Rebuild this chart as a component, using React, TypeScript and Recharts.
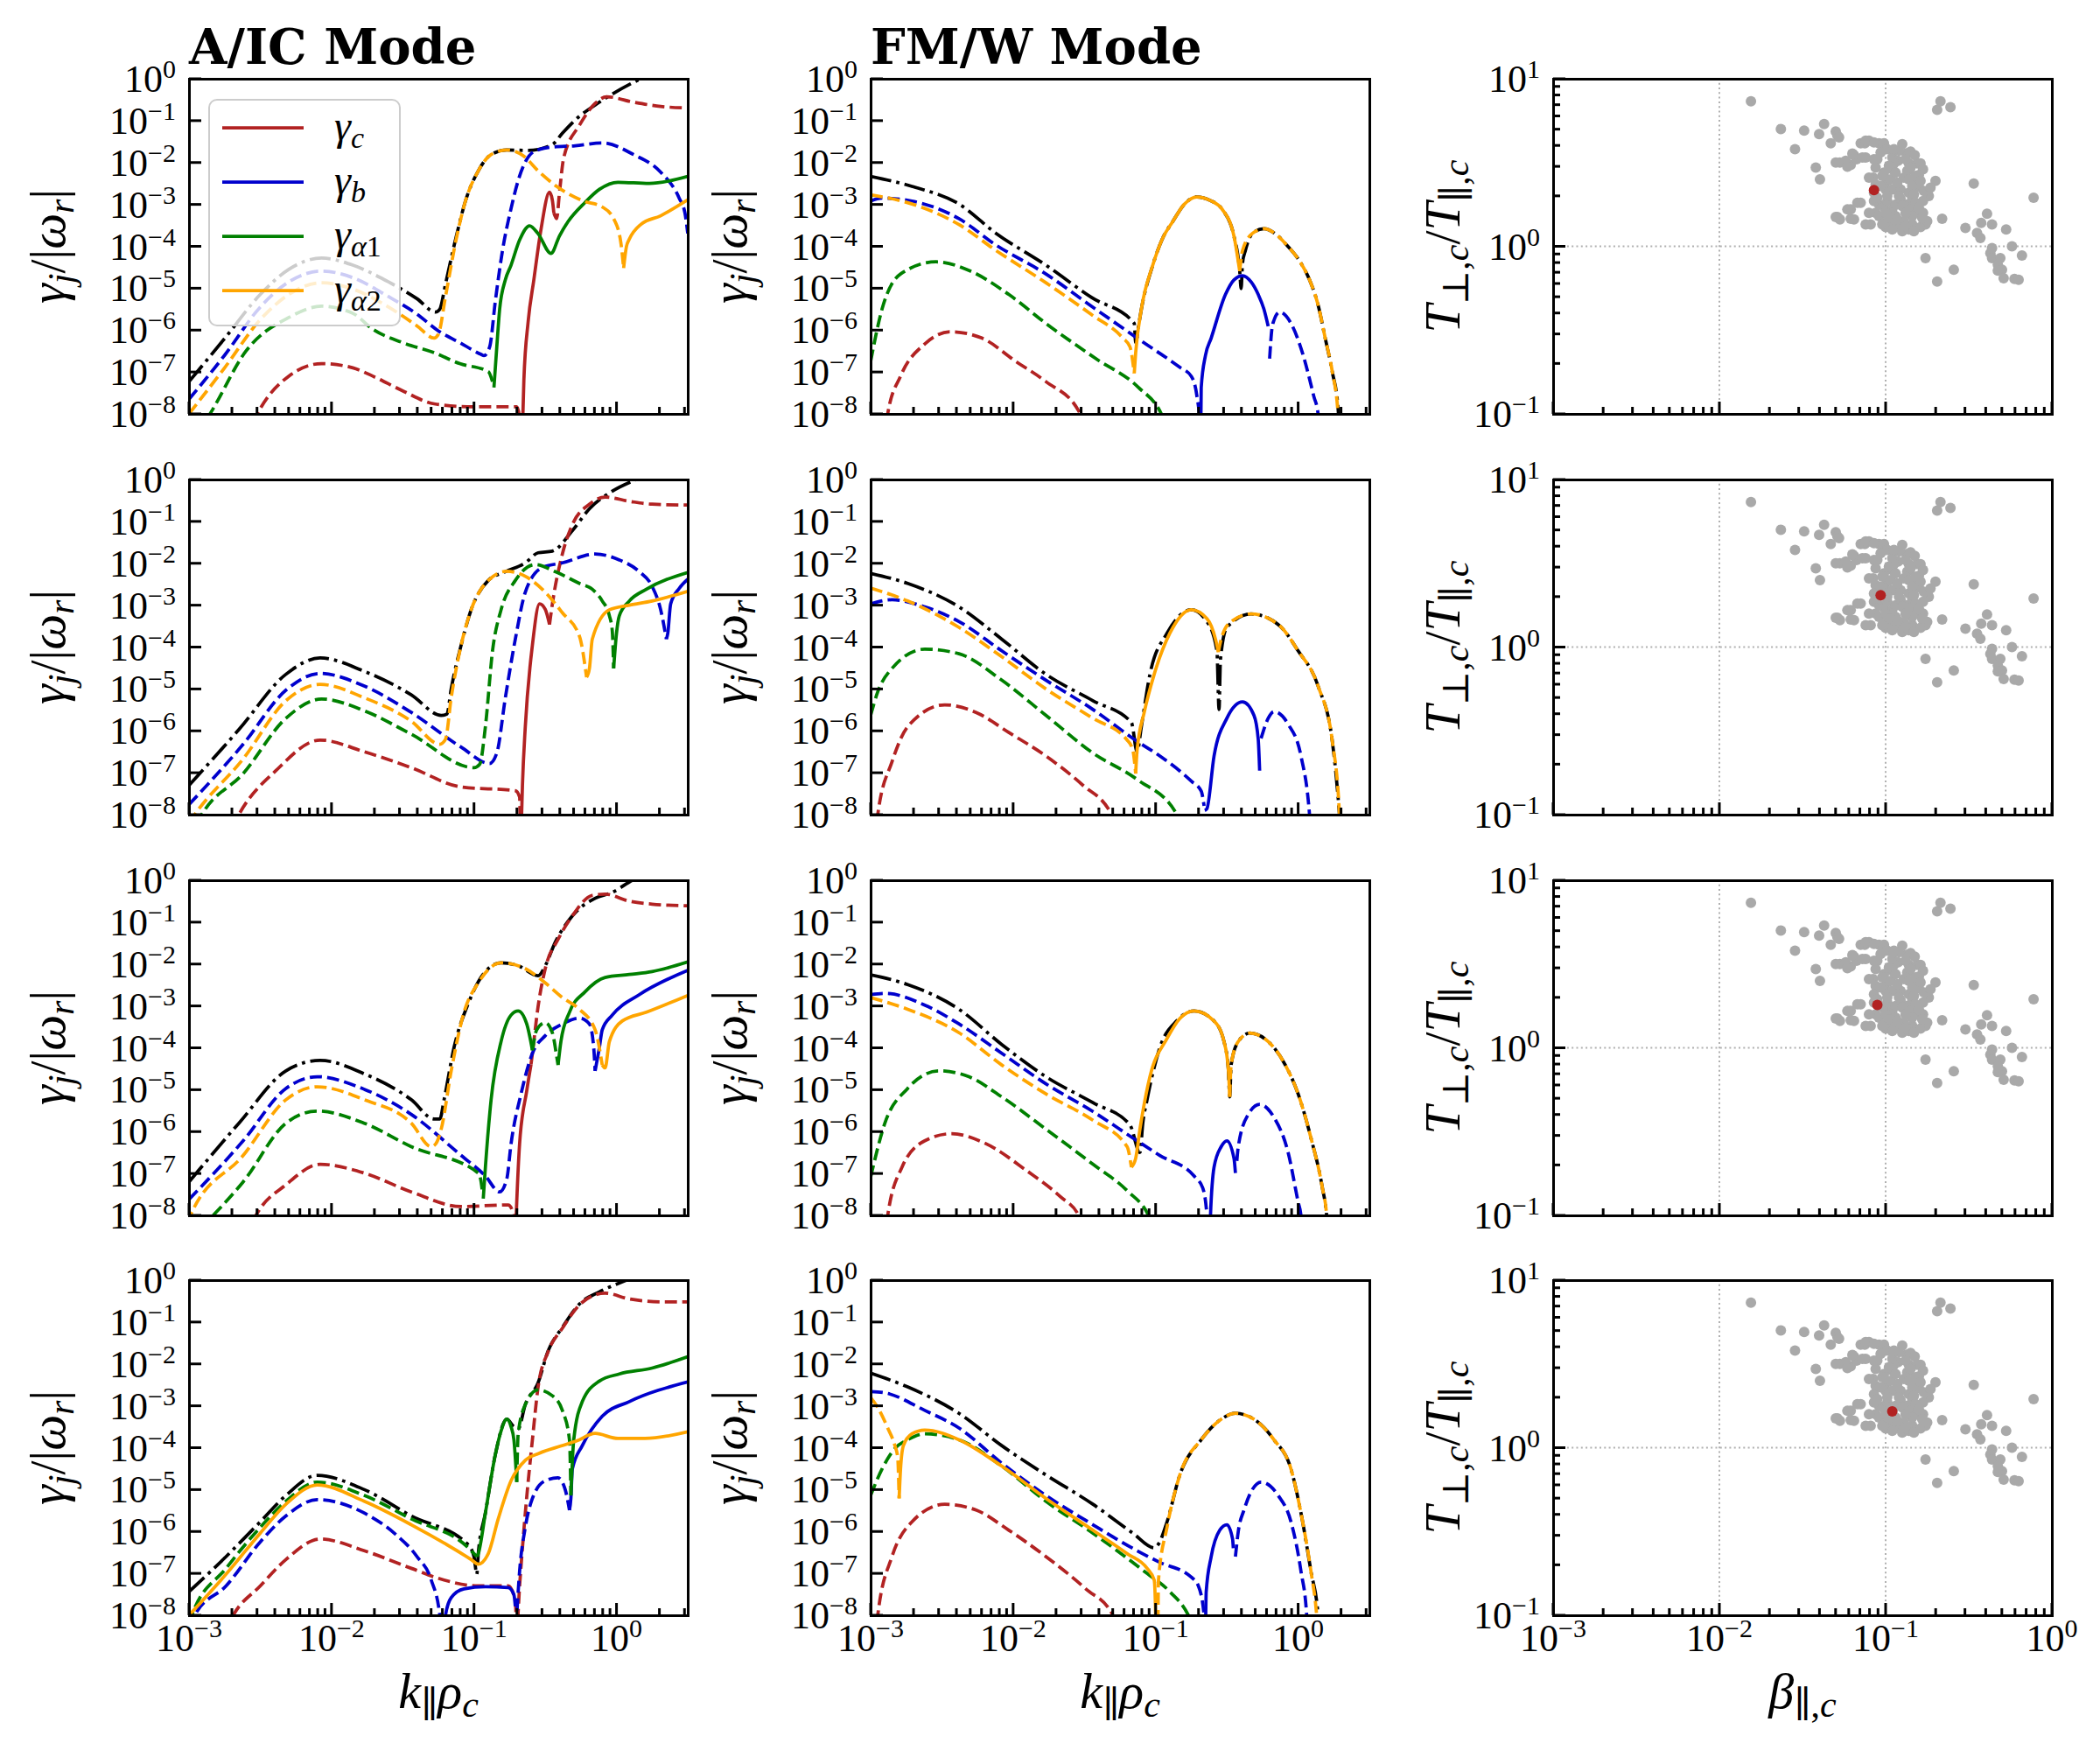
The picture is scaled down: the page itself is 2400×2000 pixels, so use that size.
import React from "react";
import { LineChart, Line, XAxis, YAxis, ScatterChart, Scatter, ReferenceLine } from "recharts";

type Pt = [number, number];
type Seg = [string, Pt[]];

const SERIF = "'Liberation Serif', 'DejaVu Serif', serif";
const BOLD_SERIF = "'DejaVu Serif', serif";

const COLORS: Record<string, string> = {
  tot: "#000000",
  c: "#b22222",
  b: "#0000cd",
  a1: "#008000",
  a2: "#ffa500",
};
const DASH: Record<string, string | undefined> = { s: undefined, d: "13.9 6", dd: "24 6 3.75 6" };

// panel geometry (plot frame)
const COL_X = [216, 995, 1775];
const ROW_Y = [90, 548, 1006, 1463];
const PW = 570;
const PH = 383;
const PAD_L = 200;
const PAD_T = 30;
const PAD_R = 60;
const PAD_B = 90;

// axes
const K_DOMAIN = [0.001, 3.1623];
const K_TICKS = [
  0.001, 0.002, 0.003, 0.004, 0.005, 0.006, 0.007, 0.008, 0.009,
  0.01, 0.02, 0.03, 0.04, 0.05, 0.06, 0.07, 0.08, 0.09,
  0.1, 0.2, 0.3, 0.4, 0.5, 0.6, 0.7, 0.8, 0.9,
  1, 2, 3,
];
const G_DOMAIN = [1e-8, 1];
const G_TICKS = [1e-8, 1e-7, 1e-6, 1e-5, 1e-4, 1e-3, 1e-2, 1e-1, 1];
const B_DOMAIN = [0.001, 1];
const B_TICKS = [
  0.001, 0.002, 0.003, 0.004, 0.005, 0.006, 0.007, 0.008, 0.009,
  0.01, 0.02, 0.03, 0.04, 0.05, 0.06, 0.07, 0.08, 0.09,
  0.1, 0.2, 0.3, 0.4, 0.5, 0.6, 0.7, 0.8, 0.9,
  1,
];
const T_DOMAIN = [0.1, 10];
const T_TICKS = [0.1, 0.2, 0.3, 0.4, 0.5, 0.6, 0.7, 0.8, 0.9, 1, 2, 3, 4, 5, 6, 7, 8, 9, 10];

// ---- curves: [log10 k, log10 |gamma|], "s" = solid (positive), "d" = dashed (negative), "dd" = total
// row 1, A/IC
const AIC1_TOT: Seg[] = [["dd", [[-3,-7.23],[-2.75,-6.2],[-2.5,-5.15],[-2.3,-4.55],[-2.07,-4.28],[-1.85,-4.45],[-1.6,-4.85],[-1.4,-5.25],[-1.27,-5.57],[-1.24,-5.5],[-1.2,-4.9],[-1.12,-3.7],[-1.06,-2.92],[-0.97,-2.2],[-0.88,-1.81],[-0.77,-1.7],[-0.62,-1.71],[-0.45,-1.57],[-0.38,-1.3],[-0.285,-0.97],[-0.12,-0.56],[0.17,0],[0.3,0.2]]]];
const AIC1_C: Seg[] = [
  ["d", [[-2.6,-8.6],[-2.52,-8],[-2.3,-7.1],[-2.07,-6.8],[-1.85,-6.9],[-1.71,-7.1],[-1.5,-7.45],[-1.28,-7.76],[-1.01,-7.83],[-0.7,-7.83],[-0.68,-8.1],[-0.67,-9]]],
  ["s", [[-0.665,-9],[-0.65,-7.2],[-0.62,-5.8],[-0.58,-4.8],[-0.53,-3.6],[-0.47,-2.71],[-0.45,-2.9],[-0.44,-3.2]]],
  ["d", [[-0.44,-3.2],[-0.42,-3.34],[-0.4,-2.71],[-0.37,-1.88],[-0.26,-1.11],[-0.15,-0.59],[-0.07,-0.43],[0.12,-0.56],[0.31,-0.66],[0.5,-0.7]]],
];
const AIC1_B: Seg[] = [["d", [[-3,-7.65],[-2.75,-6.6],[-2.5,-5.45],[-2.3,-4.85],[-2.07,-4.59],[-1.85,-4.75],[-1.6,-5.2],[-1.4,-5.62],[-1.25,-6.02],[-1.1,-6.3],[-0.95,-6.58],[-0.93,-6.61],[-0.89,-6.4],[-0.85,-5.3],[-0.8,-4.1],[-0.74,-3.1],[-0.69,-2.43],[-0.58,-1.74],[-0.45,-1.63],[-0.29,-1.6],[-0.1,-1.53],[0.12,-1.81],[0.31,-2.23],[0.44,-2.85],[0.48,-3.2],[0.5,-3.69]]]];
const AIC1_A1: Seg[] = [
  ["d", [[-3,-8.8],[-2.84,-7.93],[-2.6,-6.5],[-2.3,-5.7],[-2.07,-5.43],[-1.85,-5.6],[-1.71,-5.98],[-1.5,-6.3],[-1.28,-6.54],[-1.1,-6.8],[-0.9,-6.99],[-0.87,-7.23]]],
  ["s", [[-0.86,-7.37],[-0.84,-6.4],[-0.82,-5.5],[-0.78,-4.8],[-0.74,-4.45],[-0.68,-3.85],[-0.61,-3.51],[-0.55,-3.7],[-0.46,-4.17],[-0.4,-3.75],[-0.34,-3.41],[-0.22,-2.95],[-0.12,-2.64],[0.01,-2.47],[0.23,-2.5],[0.5,-2.33]]],
];
const AIC1_A2: Seg[] = [
  ["d", [[-3,-8],[-2.75,-6.9],[-2.5,-5.75],[-2.3,-5.15],[-2.07,-4.87],[-1.85,-5.02],[-1.6,-5.45],[-1.4,-5.9],[-1.28,-6.19],[-1.25,-6.1],[-1.2,-5.2],[-1.12,-3.75],[-1.06,-2.92],[-0.97,-2.2],[-0.88,-1.81],[-0.77,-1.7],[-0.65,-1.85],[-0.55,-2.2],[-0.42,-2.57],[-0.23,-2.92],[-0.1,-3.06],[-0.02,-3.34],[0.03,-3.9],[0.05,-4.52]]],
  ["s", [[0.05,-4.52],[0.07,-4.0],[0.09,-3.83],[0.17,-3.48],[0.31,-3.27],[0.5,-2.89]]],
];

// row 1, FM/W
const FMW1_TOT: Seg[] = [["dd", [[-3,-2.33],[-2.71,-2.57],[-2.38,-2.99],[-2.12,-3.69],[-1.77,-4.45],[-1.45,-5.22],[-1.15,-5.84],[-1.14,-6.3],[-1.12,-5.9],[-1.1,-5.5],[-1.02,-4.45],[-0.95,-3.8],[-0.88,-3.41],[-0.8,-3.0],[-0.71,-2.82],[-0.62,-2.9],[-0.53,-3.13],[-0.45,-3.76],[-0.41,-4.59],[-0.4,-5.01],[-0.39,-4.4],[-0.37,-4.1],[-0.32,-3.69],[-0.24,-3.58],[-0.16,-3.7],[-0.08,-3.97],[0,-4.3],[0.08,-4.8],[0.14,-5.4],[0.19,-6.19],[0.24,-7.0],[0.28,-7.86],[0.3,-9]]]];
const FMW1_C: Seg[] = [["d", [[-2.92,-9],[-2.88,-8],[-2.79,-7.1],[-2.62,-6.33],[-2.44,-6.04],[-2.22,-6.19],[-1.98,-6.75],[-1.77,-7.23],[-1.54,-7.93],[-1.5,-8.2]]]];
const FMW1_B: Seg[] = [
  ["d", [[-3,-2.92],[-2.92,-2.85],[-2.71,-2.92],[-2.38,-3.34],[-2.12,-3.97],[-1.77,-4.66],[-1.45,-5.43],[-1.1,-6.26],[-0.83,-6.89],[-0.75,-7.1],[-0.71,-7.58],[-0.69,-8.2],[-0.685,-9]]],
  ["s", [[-0.685,-9],[-0.68,-7.37],[-0.65,-6.6],[-0.61,-6.19],[-0.51,-5.15],[-0.45,-4.8],[-0.39,-4.7],[-0.33,-4.85],[-0.28,-5.15],[-0.24,-5.5],[-0.21,-5.91]]],
  ["d", [[-0.2,-6.68],[-0.185,-6.0],[-0.17,-5.77],[-0.13,-5.57],[-0.05,-5.84],[0.03,-6.54],[0.11,-7.58],[0.14,-8],[0.16,-9]]],
];
const FMW1_A1: Seg[] = [["d", [[-3,-6.75],[-2.92,-5.5],[-2.79,-4.66],[-2.54,-4.37],[-2.3,-4.59],[-2.03,-5.15],[-1.77,-5.84],[-1.42,-6.68],[-1.12,-7.37],[-0.96,-8],[-0.9,-8.5]]]];
const FMW1_A2: Seg[] = [
  ["d", [[-3,-2.77],[-2.71,-2.99],[-2.38,-3.48],[-2.12,-4.1],[-1.77,-4.87],[-1.45,-5.63],[-1.23,-6.19],[-1.18,-6.4],[-1.15,-7.03]]],
  ["s", [[-1.15,-7.03],[-1.14,-6.54],[-1.1,-5.5],[-1.02,-4.45],[-0.95,-3.8],[-0.88,-3.41],[-0.8,-3.0],[-0.71,-2.82],[-0.62,-2.9],[-0.53,-3.13],[-0.45,-3.76],[-0.41,-4.59]]],
  ["d", [[-0.41,-4.59],[-0.39,-4.1],[-0.32,-3.69],[-0.24,-3.58],[-0.16,-3.7],[-0.08,-3.97],[0,-4.3],[0.08,-4.8],[0.14,-5.4],[0.19,-6.19],[0.24,-7.0],[0.28,-8],[0.29,-9]]],
];

// row 2, A/IC
const AIC2_TOT: Seg[] = [["dd", [[-3,-7.3],[-2.65,-5.97],[-2.32,-4.65],[-2.08,-4.26],[-1.77,-4.58],[-1.44,-5.14],[-1.23,-5.63],[-1.19,-5.6],[-1.16,-5.0],[-1.09,-3.95],[-1.02,-3.11],[-0.9,-2.41],[-0.78,-2.2],[-0.64,-1.99],[-0.55,-1.75],[-0.45,-1.71],[-0.31,-1.22],[-0.19,-0.7],[-0.03,-0.28],[0.14,0],[0.3,0.2]]]];
const AIC2_C: Seg[] = [
  ["d", [[-2.75,-8.7],[-2.65,-8],[-2.39,-6.95],[-2.08,-6.22],[-1.77,-6.5],[-1.44,-6.88],[-1.09,-7.34],[-0.71,-7.43],[-0.68,-7.58],[-0.675,-8.5]]],
  ["s", [[-0.67,-8.5],[-0.66,-7.3],[-0.64,-5.9],[-0.59,-3.95],[-0.54,-2.97],[-0.5,-3.1],[-0.47,-3.46]]],
  ["d", [[-0.47,-3.46],[-0.45,-2.97],[-0.38,-1.78],[-0.31,-1.08],[-0.19,-0.59],[-0.08,-0.42],[0.09,-0.52],[0.25,-0.59],[0.5,-0.61]]],
];
const AIC2_B: Seg[] = [
  ["d", [[-3,-7.76],[-2.62,-6.32],[-2.32,-5.03],[-2.08,-4.63],[-1.77,-4.93],[-1.44,-5.56],[-1.09,-6.39],[-0.89,-6.78],[-0.84,-6.53],[-0.78,-5.21],[-0.71,-3.81],[-0.64,-2.69],[-0.52,-2.1],[-0.38,-1.99],[-0.15,-1.78],[0.02,-1.92],[0.16,-2.2],[0.25,-2.55],[0.31,-3.11],[0.35,-3.81]]],
  ["s", [[0.35,-3.81],[0.36,-3.67],[0.38,-2.97],[0.44,-2.6],[0.5,-2.38]]],
];
const AIC2_A1: Seg[] = [
  ["d", [[-3,-8.6],[-2.91,-8],[-2.62,-7.02],[-2.32,-5.7],[-2.07,-5.24],[-1.77,-5.52],[-1.44,-6.08],[-1.0,-6.88],[-0.96,-6.8],[-0.92,-5.9],[-0.87,-4.09],[-0.81,-3.11],[-0.71,-2.41],[-0.57,-2.03],[-0.43,-2.2],[-0.26,-2.48],[-0.17,-2.62],[-0.1,-2.9],[-0.05,-3.25],[-0.03,-3.6],[-0.02,-4.51]]],
  ["s", [[-0.02,-4.51],[0,-3.67],[0.02,-3.25],[0.09,-2.9],[0.21,-2.62],[0.5,-2.22]]],
];
const AIC2_A2: Seg[] = [
  ["d", [[-3,-8.2],[-2.96,-8],[-2.62,-6.67],[-2.32,-5.28],[-2.08,-4.89],[-1.77,-5.21],[-1.44,-5.77],[-1.24,-6.32],[-1.2,-6.2],[-1.16,-5.21],[-1.09,-3.95],[-1.02,-3.11],[-0.9,-2.41],[-0.77,-2.19],[-0.64,-2.31],[-0.5,-2.69],[-0.38,-3.18],[-0.26,-3.74],[-0.21,-4.72]]],
  ["s", [[-0.21,-4.72],[-0.19,-4.51],[-0.17,-3.81],[-0.05,-3.11],[0.09,-3.0],[0.25,-2.9],[0.5,-2.67]]],
];

// row 2, FM/W
const FMW2_TOT: Seg[] = [["dd", [[-3,-2.24],[-2.74,-2.48],[-2.38,-3.04],[-2.08,-3.81],[-1.77,-4.65],[-1.44,-5.28],[-1.17,-5.8],[-1.13,-6.5],[-1.1,-5.9],[-1.04,-4.65],[-0.92,-3.67],[-0.75,-3.11],[-0.64,-3.39],[-0.57,-4.09],[-0.555,-5.49],[-0.545,-4.3],[-0.5,-3.53],[-0.33,-3.21],[-0.14,-3.46],[0,-4.09],[0.14,-4.93],[0.24,-6.25],[0.29,-8],[0.31,-9]]]];
const FMW2_C: Seg[] = [["d", [[-2.98,-9],[-2.95,-8],[-2.85,-6.74],[-2.74,-5.9],[-2.48,-5.38],[-2.26,-5.56],[-2.03,-6.04],[-1.77,-6.6],[-1.51,-7.3],[-1.32,-7.93],[-1.28,-8.2]]]];
const FMW2_B: Seg[] = [
  ["d", [[-3,-2.97],[-2.85,-2.87],[-2.62,-3.04],[-2.38,-3.39],[-2.08,-4.09],[-1.77,-4.79],[-1.44,-5.49],[-1.13,-6.25],[-0.97,-6.6],[-0.75,-7.2],[-0.68,-7.44],[-0.66,-7.79]]],
  ["s", [[-0.655,-7.9],[-0.64,-7.86],[-0.59,-6.6],[-0.5,-5.7],[-0.39,-5.31],[-0.31,-5.63],[-0.28,-6.2],[-0.27,-6.95]]],
  ["d", [[-0.26,-6.18],[-0.21,-5.7],[-0.17,-5.54],[-0.07,-5.84],[0.02,-6.6],[0.08,-8],[0.1,-9]]],
];
const FMW2_A1: Seg[] = [["d", [[-3,-5.63],[-2.95,-5.07],[-2.85,-4.51],[-2.62,-4.05],[-2.38,-4.16],[-2.08,-4.79],[-1.77,-5.63],[-1.44,-6.53],[-1.13,-7.16],[-0.85,-8],[-0.8,-8.4]]]];
const FMW2_A2: Seg[] = [
  ["d", [[-3,-2.59],[-2.74,-2.9],[-2.38,-3.53],[-2.08,-4.23],[-1.77,-5.0],[-1.44,-5.7],[-1.2,-6.22],[-1.16,-6.46],[-1.14,-7.02]]],
  ["s", [[-1.14,-7.02],[-1.13,-6.46],[-1.08,-5.56],[-1.01,-4.65],[-0.9,-3.67],[-0.75,-3.11],[-0.64,-3.32],[-0.58,-3.81],[-0.56,-4.12]]],
  ["d", [[-0.56,-4.12],[-0.54,-3.81],[-0.47,-3.39],[-0.33,-3.21],[-0.14,-3.46],[0,-4.09],[0.14,-4.93],[0.24,-6.25],[0.29,-8],[0.3,-9]]],
];

// row 3, A/IC
const AIC3_TOT: Seg[] = [["dd", [[-3,-7.2],[-2.65,-5.8],[-2.32,-4.55],[-2.08,-4.3],[-1.77,-4.62],[-1.44,-5.24],[-1.28,-5.7],[-1.24,-5.7],[-1.21,-5.24],[-1.14,-3.99],[-1.04,-2.94],[-0.92,-2.18],[-0.81,-1.97],[-0.69,-2.04],[-0.55,-2.28],[-0.5,-2.04],[-0.43,-1.48],[-0.31,-0.85],[-0.15,-0.43],[-0.03,-0.29],[0.11,0],[0.3,0.3]]]];
const AIC3_C: Seg[] = [
  ["d", [[-2.6,-8.5],[-2.53,-8],[-2.32,-7.27],[-2.08,-6.78],[-1.77,-6.99],[-1.44,-7.44],[-1.09,-7.79],[-0.76,-7.75],[-0.72,-8],[-0.715,-8.6]]],
  ["s", [[-0.71,-8.6],[-0.7,-7.68],[-0.68,-6.29],[-0.63,-5.03],[-0.6,-4.4]]],
  ["d", [[-0.6,-4.4],[-0.59,-4.13],[-0.55,-3.01],[-0.5,-2.11],[-0.41,-1.41],[-0.31,-0.85],[-0.17,-0.36],[-0.08,-0.33],[0.09,-0.5],[0.25,-0.57],[0.5,-0.61]]],
];
const AIC3_B: Seg[] = [
  ["d", [[-3,-7.62],[-2.62,-6.22],[-2.32,-4.97],[-2.1,-4.69],[-1.77,-4.99],[-1.44,-5.59],[-1.09,-6.57],[-0.92,-7.06],[-0.82,-7.44],[-0.77,-7.13],[-0.74,-6.29],[-0.67,-5.1],[-0.59,-4.13],[-0.5,-3.71],[-0.38,-3.43],[-0.26,-3.29],[-0.19,-3.43],[-0.16,-3.99],[-0.15,-4.55]]],
  ["s", [[-0.15,-4.55],[-0.12,-3.99],[-0.1,-3.57],[-0.03,-3.22],[0.16,-2.73],[0.5,-2.15]]],
];
const AIC3_A1: Seg[] = [
  ["d", [[-3,-8.6],[-2.83,-8],[-2.62,-7.2],[-2.32,-5.8],[-2.1,-5.51],[-1.77,-5.8],[-1.44,-6.36],[-0.97,-6.99],[-0.95,-7.2],[-0.94,-7.48]]],
  ["s", [[-0.935,-7.6],[-0.92,-6.85],[-0.88,-5.24],[-0.81,-3.85],[-0.74,-3.22],[-0.69,-3.12],[-0.63,-3.43],[-0.59,-4.06]]],
  ["d", [[-0.59,-4.06],[-0.56,-3.57],[-0.5,-3.4],[-0.45,-3.64],[-0.42,-4.2],[-0.41,-4.41]]],
  ["s", [[-0.41,-4.41],[-0.39,-3.85],[-0.33,-3.15],[-0.22,-2.66],[-0.08,-2.32],[0.09,-2.25],[0.25,-2.18],[0.5,-1.95]]],
];
const AIC3_A2: Seg[] = [
  ["d", [[-3,-8.2],[-2.99,-8],[-2.62,-6.57],[-2.32,-5.24],[-2.1,-4.93],[-1.77,-5.24],[-1.44,-5.8],[-1.3,-6.36],[-1.27,-6.3],[-1.23,-5.94],[-1.16,-4.55],[-1.07,-3.15],[-0.97,-2.45],[-0.81,-1.97],[-0.64,-2.11],[-0.5,-2.45],[-0.38,-2.8],[-0.26,-3.08],[-0.15,-3.57],[-0.1,-4.41]]],
  ["s", [[-0.1,-4.41],[-0.08,-4.48],[-0.05,-3.85],[0.04,-3.36],[0.21,-3.15],[0.5,-2.75]]],
];

// row 3, FM/W
const FMW3_TOT: Seg[] = [["dd", [[-3,-2.26],[-2.74,-2.49],[-2.38,-3.08],[-2.08,-3.92],[-1.77,-4.69],[-1.44,-5.31],[-1.18,-5.84],[-1.11,-6.5],[-1.09,-5.8],[-1.06,-5.24],[-0.97,-3.99],[-0.85,-3.35],[-0.73,-3.12],[-0.59,-3.36],[-0.52,-3.85],[-0.49,-4.5],[-0.48,-5.17],[-0.47,-4.41],[-0.42,-3.85],[-0.34,-3.65],[-0.21,-3.85],[-0.09,-4.41],[0,-5.1],[0.09,-6.15],[0.17,-7.34],[0.2,-8],[0.22,-9]]]];
const FMW3_C: Seg[] = [["d", [[-2.9,-8.6],[-2.88,-8],[-2.78,-6.85],[-2.62,-6.22],[-2.43,-6.05],[-2.19,-6.29],[-1.91,-6.92],[-1.67,-7.55],[-1.54,-8],[-1.5,-8.3]]]];
const FMW3_B: Seg[] = [
  ["d", [[-3,-2.73],[-2.9,-2.7],[-2.62,-2.98],[-2.38,-3.43],[-2.08,-4.13],[-1.77,-4.86],[-1.44,-5.52],[-1.13,-6.22],[-0.97,-6.57],[-0.73,-7.06],[-0.67,-7.34],[-0.64,-8],[-0.635,-9]]],
  ["s", [[-0.625,-9],[-0.615,-8],[-0.59,-6.85],[-0.54,-6.36],[-0.5,-6.22],[-0.45,-6.64],[-0.44,-6.99]]],
  ["d", [[-0.43,-6.7],[-0.42,-6.36],[-0.35,-5.59],[-0.27,-5.35],[-0.17,-5.66],[-0.07,-6.5],[0,-7.68],[0.02,-8],[0.03,-9]]],
];
const FMW3_A1: Seg[] = [["d", [[-3,-7.09],[-2.9,-5.8],[-2.74,-4.97],[-2.52,-4.55],[-2.31,-4.69],[-2.08,-5.17],[-1.77,-5.94],[-1.44,-6.78],[-1.2,-7.41],[-1.05,-8],[-1.0,-8.4]]]];
const FMW3_A2: Seg[] = [
  ["d", [[-3,-2.8],[-2.74,-3.08],[-2.38,-3.64],[-2.08,-4.41],[-1.77,-5.1],[-1.44,-5.73],[-1.2,-6.36],[-1.17,-6.85]]],
  ["s", [[-1.17,-6.85],[-1.14,-6.64],[-1.11,-5.94],[-1.04,-4.69],[-0.92,-3.78],[-0.83,-3.3],[-0.73,-3.12],[-0.59,-3.36],[-0.52,-3.85],[-0.49,-4.5],[-0.48,-5.17]]],
  ["d", [[-0.48,-5.17],[-0.47,-4.41],[-0.42,-3.85],[-0.34,-3.65],[-0.21,-3.85],[-0.09,-4.41],[0,-5.1],[0.09,-6.15],[0.17,-7.34],[0.2,-8],[0.21,-9]]],
];

// row 4, A/IC
const AIC4_TOT: Seg[] = [["dd", [[-3,-7.44],[-2.74,-6.6],[-2.5,-5.77],[-2.32,-5.14],[-2.1,-4.66],[-1.77,-5.0],[-1.44,-5.63],[-1.04,-6.32],[-1.0,-6.6],[-0.98,-7.02],[-0.97,-6.53],[-0.92,-5.56],[-0.85,-4.16],[-0.77,-3.32],[-0.72,-3.5],[-0.69,-3.55],[-0.64,-2.97],[-0.55,-2.45],[-0.48,-1.69],[-0.38,-1.13],[-0.26,-0.57],[-0.12,-0.28],[0.07,0],[0.3,0.3]]]];
const AIC4_C: Seg[] = [["d", [[-2.75,-8.4],[-2.69,-8],[-2.5,-7.3],[-2.32,-6.67],[-2.08,-6.18],[-1.77,-6.46],[-1.44,-6.88],[-1.21,-7.16],[-0.97,-7.3],[-0.76,-7.3],[-0.71,-7.65],[-0.7,-8.3],[-0.68,-7.3],[-0.64,-5.56],[-0.59,-3.81],[-0.55,-2.55],[-0.48,-1.71],[-0.38,-1.15],[-0.26,-0.59],[-0.15,-0.35],[-0.08,-0.31],[0.09,-0.45],[0.33,-0.52],[0.5,-0.52]]]];
const AIC4_B: Seg[] = [
  ["d", [[-3,-8.3],[-2.96,-8],[-2.74,-7.3],[-2.5,-6.25],[-2.32,-5.63],[-2.1,-5.24],[-1.77,-5.56],[-1.56,-6.04],[-1.4,-6.6],[-1.3,-7.16],[-1.24,-8],[-1.23,-9]]],
  ["s", [[-1.21,-9],[-1.2,-8],[-1.16,-7.58],[-1.07,-7.37],[-0.92,-7.32],[-0.76,-7.34],[-0.72,-7.51],[-0.71,-7.79]]],
  ["d", [[-0.705,-8.3],[-0.68,-6.95],[-0.64,-5.9],[-0.59,-5.21],[-0.5,-4.79],[-0.41,-4.72],[-0.36,-5.0],[-0.33,-5.49]]],
  ["s", [[-0.33,-5.49],[-0.32,-5.21],[-0.31,-4.51],[-0.24,-3.95],[-0.1,-3.25],[0.09,-2.9],[0.5,-2.43]]],
];
const AIC4_A1: Seg[] = [
  ["d", [[-3,-8.2],[-2.98,-8],[-2.74,-6.88],[-2.5,-5.9],[-2.32,-5.28],[-2.1,-4.82],[-1.77,-5.14],[-1.44,-5.7],[-1.04,-6.39],[-1.0,-6.53],[-0.98,-6.6]]],
  ["s", [[-0.98,-6.6],[-0.97,-6.53],[-0.92,-5.56],[-0.85,-4.16],[-0.81,-3.6],[-0.77,-3.32],[-0.74,-3.5],[-0.72,-3.81],[-0.7,-4.82]]],
  ["d", [[-0.7,-4.82],[-0.69,-3.67],[-0.64,-2.97],[-0.55,-2.62],[-0.45,-2.76],[-0.38,-3.11],[-0.33,-3.81],[-0.32,-5.14]]],
  ["s", [[-0.32,-5.14],[-0.3,-3.81],[-0.24,-2.9],[-0.12,-2.41],[0.02,-2.24],[0.25,-2.1],[0.5,-1.83]]],
];
const AIC4_A2: Seg[] = [["s", [[-3,-8],[-2.74,-7.02],[-2.5,-6.04],[-2.32,-5.35],[-2.1,-4.89],[-1.77,-5.28],[-1.44,-5.84],[-1.02,-6.67],[-0.97,-6.78],[-0.9,-6.53],[-0.83,-5.7],[-0.74,-4.79],[-0.64,-4.3],[-0.54,-4.13],[-0.39,-3.96],[-0.28,-3.84],[-0.15,-3.66],[0.01,-3.78],[0.2,-3.78],[0.5,-3.62]]]];

// row 4, FM/W
const FMW4_TOT: Seg[] = [["dd", [[-3,-2.22],[-2.74,-2.55],[-2.38,-3.18],[-2.08,-3.95],[-1.77,-4.65],[-1.44,-5.35],[-1.16,-6.04],[-1.01,-6.39],[-0.98,-6.3],[-0.92,-5.77],[-0.83,-4.65],[-0.68,-3.81],[-0.54,-3.32],[-0.44,-3.18],[-0.31,-3.32],[-0.17,-3.81],[-0.05,-4.51],[0.02,-5.56],[0.09,-6.95],[0.14,-8],[0.16,-9]]]];
const FMW4_C: Seg[] = [["d", [[-2.98,-9],[-2.95,-8],[-2.85,-6.6],[-2.71,-5.77],[-2.48,-5.35],[-2.26,-5.49],[-2.03,-5.97],[-1.77,-6.6],[-1.49,-7.37],[-1.3,-8],[-1.26,-8.3]]]];
const FMW4_B: Seg[] = [
  ["d", [[-3,-2.66],[-2.9,-2.69],[-2.62,-3.11],[-2.38,-3.53],[-2.08,-4.37],[-1.77,-5.14],[-1.44,-5.84],[-1.13,-6.46],[-0.97,-6.74],[-0.75,-7.09],[-0.7,-7.3],[-0.66,-8],[-0.655,-9]]],
  ["s", [[-0.65,-8.5],[-0.645,-7.44],[-0.61,-6.6],[-0.55,-5.97],[-0.5,-5.84],[-0.46,-6.18],[-0.455,-6.4]]],
  ["d", [[-0.44,-6.6],[-0.42,-6.0],[-0.38,-5.49],[-0.26,-4.82],[-0.14,-5.14],[-0.05,-5.77],[0.02,-6.95],[0.06,-8],[0.07,-9]]],
];
const FMW4_A1: Seg[] = [["d", [[-3,-5.14],[-2.92,-4.51],[-2.83,-4.02],[-2.74,-3.81],[-2.62,-3.67],[-2.38,-3.81],[-2.08,-4.44],[-1.77,-5.28],[-1.44,-6.04],[-1.08,-6.95],[-0.9,-7.44],[-0.77,-8],[-0.72,-8.4]]]];
const FMW4_A2: Seg[] = [
  ["d", [[-3,-2.8],[-2.95,-3.04],[-2.88,-3.53],[-2.83,-3.95],[-2.81,-4.23],[-2.8,-5.21]]],
  ["s", [[-2.8,-5.21],[-2.79,-4.51],[-2.77,-3.95],[-2.71,-3.67],[-2.62,-3.58],[-2.38,-3.81],[-2.08,-4.44],[-1.77,-5.21],[-1.44,-5.97],[-1.2,-6.53],[-1.06,-6.88],[-1.01,-7.16],[-1.0,-8],[-0.995,-9]]],
  ["d", [[-0.985,-9],[-0.98,-7.16],[-0.92,-5.9],[-0.83,-4.65],[-0.68,-3.81],[-0.54,-3.32],[-0.44,-3.18],[-0.31,-3.32],[-0.17,-3.81],[-0.05,-4.51],[0.02,-5.56],[0.09,-6.95],[0.13,-8],[0.15,-9]]],
];

// ---- scatter: [log10 beta_par, log10 Tperp/Tpar]
const GRAY_PTS: Pt[] = [
  [-1.81,0.865],[-1.63,0.7],[-1.49,0.69],[-1.37,0.73],[-1.4,0.67],[-1.3,0.685],[-1.29,0.66],[-1.28,0.65],[-1.33,0.615],[-1.545,0.58],
  [-1.42,0.47],[-1.395,0.4],[-1.275,0.5],[-1.21,0.485],[-1.19,0.545],[-1.175,0.52],[-1.125,0.615],[-1.1,0.63],[-1.12,0.53],[-1.075,0.41],
  [-1.05,0.52],[-1.04,0.615],[-1.01,0.615],[-0.99,0.58],[-0.96,0.53],[-0.925,0.51],[-0.9,0.61],[-0.875,0.555],[-0.85,0.565],[-0.825,0.545],
  [-0.81,0.495],[-0.79,0.495],[-0.775,0.46],[-0.7,0.39],[-0.96,0.46],[-0.99,0.39],[-1.0,0.34],[-0.96,0.34],[-0.91,0.34],[-0.89,0.41],
  [-0.825,0.39],[-0.8,0.355],[-0.74,0.3],[-0.775,0.27],[-1.04,0.25],[-1.01,0.235],[-0.99,0.27],[-0.96,0.22],[-0.94,0.25],[-0.91,0.285],
  [-0.875,0.25],[-0.85,0.22],[-0.81,0.2],[-1.06,0.2],[-1.04,0.18],[-0.99,0.15],[-0.95,0.13],[-0.91,0.115],[-0.89,0.15],[-0.84,0.13],
  [-0.79,0.115],[-0.76,0.13],[-0.75,0.15],[-0.9,0.09],[-1.15,0.26],[-1.21,0.22],[-1.29,0.175],[-1.275,0.16],[-1.19,0.16],[-1.09,0.13],
  [-0.66,0.165],[-0.47,0.375],[-0.11,0.29],[-0.39,0.195],[-0.425,0.14],[-0.36,0.13],[-0.52,0.11],[-0.45,0.08],[-0.43,0.05],[-0.275,0.1],
  [-0.36,-0.01],[-0.37,-0.04],[-0.24,0.0],[-0.18,-0.055],[-0.36,-0.07],[-0.31,-0.07],[-0.325,-0.11],[-0.3,-0.14],[-0.325,-0.145],[-0.29,-0.19],
  [-0.225,-0.195],[-0.2,-0.2],[-0.76,-0.07],[-0.59,-0.14],[-0.69,-0.21],[-0.69,0.815],[-0.67,0.865],[-0.61,0.83],[-0.95,0.495],[-1.01,0.44],
  [-0.99,0.3],[-0.94,0.18],[-0.86,0.32],[-0.84,0.285],[-1.06,0.37],[-0.86,0.495],[-0.8,0.425],[-0.775,0.2],[-0.84,0.18],[-1.0,0.115],
  [-1.07,0.27],[-1.1,0.2],[-1.07,0.32],[-1.02,0.42],[-1.03,0.36],[-0.98,0.48],[-0.97,0.4],[-0.94,0.44],[-0.93,0.38],[-0.92,0.3],
  [-0.9,0.24],[-0.88,0.2],[-0.87,0.45],[-0.86,0.4],[-0.84,0.36],[-0.83,0.31],[-0.82,0.26],[-0.8,0.23],[-0.78,0.17],[-0.86,0.1],
  [-0.96,0.1],[-1.02,0.13],[-1.05,0.29],[-1.0,0.2],[-0.97,0.17],[-0.93,0.16],[-0.88,0.12],[-0.83,0.09],[-0.92,0.57],[-0.88,0.52],
  [-0.95,0.58],[-1.03,0.56],[-1.06,0.47],[-0.85,0.47],[-0.82,0.42],[-0.79,0.39],[-0.77,0.33],[-0.73,0.35],[-1.1,0.41],[-1.2,0.553],
  [-1.14,0.53],[-1.24,0.51],[-1.23,0.475],[-1.3,0.5],[-1.15,0.615],[-1.12,0.63],[-1.07,0.62],[-1.17,0.26],[-1.23,0.22],[-1.3,0.175],
  [-1.21,0.165],[-1.12,0.13],[-1.07,0.52],
];
const RED_PTS: Pt[] = [[-1.07,0.335],[-1.03,0.31],[-1.05,0.256],[-0.96,0.217]];

const PANELS: [string, Seg[]][][] = [
  [["tot", AIC1_TOT], ["c", AIC1_C], ["b", AIC1_B], ["a1", AIC1_A1], ["a2", AIC1_A2]],
  [["tot", AIC2_TOT], ["c", AIC2_C], ["b", AIC2_B], ["a1", AIC2_A1], ["a2", AIC2_A2]],
  [["tot", AIC3_TOT], ["c", AIC3_C], ["b", AIC3_B], ["a1", AIC3_A1], ["a2", AIC3_A2]],
  [["tot", AIC4_TOT], ["c", AIC4_C], ["b", AIC4_B], ["a1", AIC4_A1], ["a2", AIC4_A2]],
];
const PANELS_FMW: [string, Seg[]][][] = [
  [["tot", FMW1_TOT], ["c", FMW1_C], ["b", FMW1_B], ["a1", FMW1_A1], ["a2", FMW1_A2]],
  [["tot", FMW2_TOT], ["c", FMW2_C], ["b", FMW2_B], ["a1", FMW2_A1], ["a2", FMW2_A2]],
  [["tot", FMW3_TOT], ["c", FMW3_C], ["b", FMW3_B], ["a1", FMW3_A1], ["a2", FMW3_A2]],
  [["tot", FMW4_TOT], ["c", FMW4_C], ["b", FMW4_B], ["a1", FMW4_A1], ["a2", FMW4_A2]],
];

function isMajor(v: number) {
  const e = Math.log10(v);
  return Math.abs(e - Math.round(e)) < 1e-6;
}

function Pow({ x, y, v, anchor }: any) {
  const e = Math.round(Math.log10(v));
  const exp = e < 0 ? "\u2212" + -e : String(e);
  return (
    <text x={x} y={y} textAnchor={anchor} fontFamily={SERIF} fontSize={44} fill="#000">
      10<tspan dy={-16} fontSize={30}>{exp}</tspan>
    </text>
  );
}

function XTick(props: any) {
  const { x, y, payload, showLabel } = props;
  const major = isMajor(payload.value);
  return (
    <g>
      <line x1={x} x2={x} y1={y} y2={y - (major ? 14 : 8)} stroke="#000" strokeWidth={3} />
      {major && showLabel && <Pow x={x} y={y + 41} v={payload.value} anchor="middle" />}
    </g>
  );
}

function YTick(props: any) {
  const { x, y, payload } = props;
  const major = isMajor(payload.value);
  return (
    <g>
      <line x1={x} x2={x + (major ? 14 : 8)} y1={y} y2={y} stroke="#000" strokeWidth={3} />
      {major && <Pow x={x - 15} y={y + 15} v={payload.value} anchor="end" />}
    </g>
  );
}

const frameStyle: React.CSSProperties = {
  position: "absolute",
  left: PAD_L - 1.5,
  top: PAD_T - 1.5,
  width: PW + 3,
  height: PH + 3,
  border: "3px solid #000",
  boxSizing: "border-box",
  pointerEvents: "none",
};

function GammaPanel({ col, row, series }: { col: number; row: number; series: [string, Seg[]][] }) {
  const showX = row === 3;
  const lines: React.ReactElement[] = [];
  series.forEach(([key, segs]) =>
    segs.forEach(([style, pts], i) => {
      lines.push(
        <Line
          key={`${key}-${i}`}
          data={pts.map(([a, b]) => ({ k: 10 ** a, g: 10 ** b }))}
          dataKey="g"
          type="monotone"
          stroke={COLORS[key]}
          strokeWidth={3.75}
          strokeDasharray={DASH[style]}
          dot={false}
          activeDot={false}
          isAnimationActive={false}
        />
      );
    })
  );
  return (
    <div style={{ position: "absolute", left: COL_X[col] - PAD_L, top: ROW_Y[row] - PAD_T }}>
      <LineChart width={PAD_L + PW + PAD_R} height={PAD_T + PH + PAD_B} margin={{ top: PAD_T, right: PAD_R, left: 0, bottom: 0 }}>
        <XAxis
          dataKey="k"
          type="number"
          scale="log"
          domain={K_DOMAIN}
          allowDataOverflow
          ticks={K_TICKS}
          interval={0}
          tickSize={0}
          tickMargin={0}
          axisLine={false}
          tickLine={false}
          height={PAD_B}
          tick={(p: any) => <XTick {...p} showLabel={showX} />}
        />
        <YAxis
          type="number"
          scale="log"
          domain={G_DOMAIN}
          allowDataOverflow
          ticks={G_TICKS}
          interval={0}
          tickSize={0}
          tickMargin={0}
          axisLine={false}
          tickLine={false}
          width={PAD_L}
          tick={(p: any) => <YTick {...p} />}
        />
        {lines}
      </LineChart>
      <div style={frameStyle} />
    </div>
  );
}

function ScatterPanel({ row }: { row: number }) {
  const showX = row === 3;
  const gray = GRAY_PTS.map(([a, b]) => ({ b: 10 ** a, t: 10 ** b }));
  const red = [RED_PTS[row]].map(([a, b]) => ({ b: 10 ** a, t: 10 ** b }));
  const dot = (p: any) => <circle cx={p.cx} cy={p.cy} r={6} fill={p.fill} />;
  return (
    <div style={{ position: "absolute", left: COL_X[2] - PAD_L, top: ROW_Y[row] - PAD_T }}>
      <ScatterChart width={PAD_L + PW + PAD_R} height={PAD_T + PH + PAD_B} margin={{ top: PAD_T, right: PAD_R, left: 0, bottom: 0 }}>
        <XAxis
          dataKey="b"
          type="number"
          scale="log"
          domain={B_DOMAIN}
          allowDataOverflow
          ticks={B_TICKS}
          interval={0}
          tickSize={0}
          tickMargin={0}
          axisLine={false}
          tickLine={false}
          height={PAD_B}
          tick={(p: any) => <XTick {...p} showLabel={showX} />}
        />
        <YAxis
          dataKey="t"
          type="number"
          scale="log"
          domain={T_DOMAIN}
          allowDataOverflow
          ticks={T_TICKS}
          interval={0}
          tickSize={0}
          tickMargin={0}
          axisLine={false}
          tickLine={false}
          width={PAD_L}
          tick={(p: any) => <YTick {...p} />}
        />
        <ReferenceLine x={0.01} stroke="#b0b0b0" strokeWidth={2} strokeDasharray="2 3.3" />
        <ReferenceLine x={0.1} stroke="#b0b0b0" strokeWidth={2} strokeDasharray="2 3.3" />
        <ReferenceLine y={1} stroke="#b0b0b0" strokeWidth={2} strokeDasharray="2 3.3" />
        <Scatter data={gray} fill="#a9a9a9" shape={dot} isAnimationActive={false} />
        <Scatter data={red} fill="#b22222" shape={dot} isAnimationActive={false} />
      </ScatterChart>
      <div style={frameStyle} />
    </div>
  );
}

function GammaLabel({ x, y }: { x: number; y: number }) {
  return (
    <text transform={`rotate(-90 ${x} ${y})`} x={x} y={y} textAnchor="middle" fontFamily={SERIF} fontSize={58} fontStyle="italic">
      γ<tspan dy={10} fontSize={42}>j</tspan>
      <tspan dy={-10} fontStyle="normal">/|</tspan>ω<tspan dy={10} fontSize={42}>r</tspan>
      <tspan dy={-10} fontStyle="normal">|</tspan>
    </text>
  );
}

function TempLabel({ x, y }: { x: number; y: number }) {
  return (
    <text transform={`rotate(-90 ${x} ${y})`} x={x} y={y} textAnchor="middle" fontFamily={SERIF} fontSize={58} fontStyle="italic">
      T<tspan dy={10} fontSize={42}><tspan fontStyle="normal">⊥,</tspan>c</tspan>
      <tspan dy={-10} fontStyle="normal">/</tspan>T<tspan dy={10} fontSize={42}><tspan fontStyle="normal">∥,</tspan>c</tspan>
    </text>
  );
}

function Legend1() {
  const items: [string, string, string][] = [
    ["c", "c", ""],
    ["b", "b", ""],
    ["a1", "α", "1"],
    ["a2", "α", "2"],
  ];
  return (
    <div
      style={{
        position: "absolute",
        left: 238,
        top: 113,
        width: 220,
        height: 260,
        boxSizing: "border-box",
        border: "2px solid #cccccc",
        borderRadius: 10,
        background: "rgba(255,255,255,0.8)",
      }}
    >
      <svg width={216} height={256} style={{ position: "absolute", left: 0, top: 0 }}>
        {items.map(([key, s1, s2], i) => {
          const y = 31 + i * 62;
          return (
            <g key={key}>
              <line x1={14} x2={107} y1={y} y2={y} stroke={COLORS[key]} strokeWidth={3.75} />
              <text x={142} y={y + 14} fontFamily={SERIF} fontSize={48} fontStyle="italic">
                γ<tspan dy={9} fontSize={34}>{s1}</tspan>
                {s2 && <tspan fontSize={34} fontStyle="normal">{s2}</tspan>}
              </text>
            </g>
          );
        })}
      </svg>
    </div>
  );
}

export default function App() {
  return (
    <div style={{ position: "absolute", left: 0, top: 0, width: 2400, height: 2000, background: "#fff", overflow: "hidden" }}>
      {PANELS.map((series, r) => (
        <GammaPanel key={`aic${r}`} col={0} row={r} series={series} />
      ))}
      {PANELS_FMW.map((series, r) => (
        <GammaPanel key={`fmw${r}`} col={1} row={r} series={series} />
      ))}
      {[0, 1, 2, 3].map((r) => (
        <ScatterPanel key={`sc${r}`} row={r} />
      ))}
      <Legend1 />
      <svg width={2400} height={2000} style={{ position: "absolute", left: 0, top: 0, pointerEvents: "none" }}>
        <text x={COL_X[0]} y={73} fontFamily={BOLD_SERIF} fontWeight="bold" fontSize={56}>A/IC Mode</text>
        <text x={COL_X[1]} y={73} fontFamily={BOLD_SERIF} fontWeight="bold" fontSize={56}>FM/W Mode</text>
        {ROW_Y.map((top, r) => (
          <g key={r}>
            <GammaLabel x={COL_X[0] - 142} y={top + PH / 2} />
            <GammaLabel x={COL_X[1] - 142} y={top + PH / 2} />
            <TempLabel x={COL_X[2] - 107} y={top + PH / 2} />
          </g>
        ))}
        {[0, 1].map((c) => (
          <text key={c} x={COL_X[c] + PW / 2} y={1952} textAnchor="middle" fontFamily={SERIF} fontSize={58} fontStyle="italic">
            k<tspan dy={10} fontSize={42} fontStyle="normal">∥</tspan>
            <tspan dy={-10}>ρ</tspan>
            <tspan dy={10} fontSize={42}>c</tspan>
          </text>
        ))}
        <text x={COL_X[2] + PW / 2} y={1952} textAnchor="middle" fontFamily={SERIF} fontSize={58} fontStyle="italic">
          β<tspan dy={10} fontSize={42}><tspan fontStyle="normal">∥,</tspan>c</tspan>
        </text>
      </svg>
    </div>
  );
}
